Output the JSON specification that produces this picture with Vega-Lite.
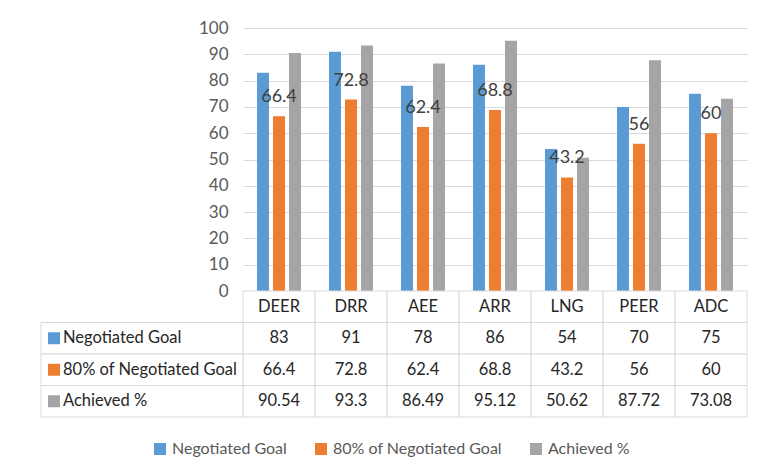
{
  "$schema": "https://vega.github.io/schema/vega-lite/v6.json",
  "background": "white",
  "padding": {"left": 40, "top": 19, "right": 10, "bottom": 10},
  "bounds": "flush",
  "spacing": 0,
  "config": {
    "font": "Lato",
    "view": {"stroke": null},
    "legend": {
      "orient": "none",
      "legendX": -91,
      "legendY": 413,
      "direction": "horizontal",
      "title": null,
      "symbolType": "square",
      "symbolSize": 144,
      "symbolStrokeWidth": 0,
      "symbolOpacity": 1,
      "labelFont": "Lato",
      "labelFontSize": 16,
      "labelColor": "#595959",
      "labelOffset": 4,
      "labelLimit": 0,
      "columnPadding": 26
    }
  },
  "datasets": {
    "d": [
      {"cat": "DEER", "series": "Negotiated Goal", "value": 83},
      {"cat": "DRR", "series": "Negotiated Goal", "value": 91},
      {"cat": "AEE", "series": "Negotiated Goal", "value": 78},
      {"cat": "ARR", "series": "Negotiated Goal", "value": 86},
      {"cat": "LNG", "series": "Negotiated Goal", "value": 54},
      {"cat": "PEER", "series": "Negotiated Goal", "value": 70},
      {"cat": "ADC", "series": "Negotiated Goal", "value": 75},
      {"cat": "DEER", "series": "80% of Negotiated Goal", "value": 66.4},
      {"cat": "DRR", "series": "80% of Negotiated Goal", "value": 72.8},
      {"cat": "AEE", "series": "80% of Negotiated Goal", "value": 62.4},
      {"cat": "ARR", "series": "80% of Negotiated Goal", "value": 68.8},
      {"cat": "LNG", "series": "80% of Negotiated Goal", "value": 43.2},
      {"cat": "PEER", "series": "80% of Negotiated Goal", "value": 56},
      {"cat": "ADC", "series": "80% of Negotiated Goal", "value": 60},
      {"cat": "DEER", "series": "Achieved %", "value": 90.54},
      {"cat": "DRR", "series": "Achieved %", "value": 93.3},
      {"cat": "AEE", "series": "Achieved %", "value": 86.49},
      {"cat": "ARR", "series": "Achieved %", "value": 95.12},
      {"cat": "LNG", "series": "Achieved %", "value": 50.62},
      {"cat": "PEER", "series": "Achieved %", "value": 87.72},
      {"cat": "ADC", "series": "Achieved %", "value": 73.08}
    ]
  },
  "vconcat": [
    {
      "width": 504,
      "height": 263,
      "data": {"name": "d"},
      "encoding": {
        "x": {"field": "cat", "type": "nominal", "sort": ["DEER", "DRR", "AEE", "ARR", "LNG", "PEER", "ADC"], "scale": {"paddingInner": 0, "paddingOuter": 0}, "axis": null},
        "y": {"field": "value", "type": "quantitative", "scale": {"domain": [0, 100]},
          "axis": {"title": null, "values": [0, 10, 20, 30, 40, 50, 60, 70, 80, 90, 100], "labelOverlap": false, "domain": false, "ticks": false, "labelPadding": 15, "labelFont": "Lato", "labelFontSize": 17, "labelColor": "#595959", "gridColor": "#d9d9d9", "gridWidth": 1}}
      },
      "layer": [
        {
          "mark": {"type": "bar"},
          "encoding": {
            "xOffset": {"field": "series", "type": "nominal", "sort": ["Negotiated Goal", "80% of Negotiated Goal", "Achieved %"], "scale": {"paddingInner": 0.25, "paddingOuter": 0.875}},
            "color": {"field": "series", "type": "nominal", "sort": ["Negotiated Goal", "80% of Negotiated Goal", "Achieved %"],
              "scale": {"domain": ["Negotiated Goal", "80% of Negotiated Goal", "Achieved %"], "range": ["#5b9bd5", "#ed7d31", "#a5a5a5"]}}
          }
        },
        {
          "transform": [{"filter": "datum.series === '80% of Negotiated Goal'"}],
          "mark": {"type": "text", "dy": -19, "fontSize": 18, "color": "#404040", "font": "Lato", "baseline": "middle"},
          "encoding": {
            "text": {"field": "value", "type": "quantitative"}
          }
        }
      ]
    },
    {
      "width": 504,
      "height": 126,
      "data": {"name": "d"},
      "layer": [
        {
          "transform": [{"filter": "datum.series === 'Negotiated Goal'"}],
          "mark": {"type": "rect", "fill": "white", "stroke": "#d9d9d9", "strokeWidth": 1},
          "encoding": {
            "x": {"field": "cat", "type": "nominal", "sort": ["DEER", "DRR", "AEE", "ARR", "LNG", "PEER", "ADC"], "scale": {"paddingInner": 0, "paddingOuter": 0}, "axis": null},
            "y": {"datum": "hdr", "type": "nominal", "scale": {"domain": ["hdr", "Negotiated Goal", "80% of Negotiated Goal", "Achieved %"], "paddingInner": 0, "paddingOuter": 0}, "axis": null}
          }
        },
        {
          "mark": {"type": "rect", "fill": "white", "stroke": "#d9d9d9", "strokeWidth": 1},
          "encoding": {
            "x": {"field": "cat", "type": "nominal", "sort": ["DEER", "DRR", "AEE", "ARR", "LNG", "PEER", "ADC"], "scale": {"paddingInner": 0, "paddingOuter": 0}, "axis": null},
            "y": {"field": "series", "type": "nominal", "axis": null}
          }
        },
        {
          "transform": [{"filter": "datum.series === 'Negotiated Goal'"}],
          "mark": {"type": "text", "fontSize": 16.5, "color": "#262626", "font": "Lato", "baseline": "middle"},
          "encoding": {
            "x": {"field": "cat", "type": "nominal", "sort": ["DEER", "DRR", "AEE", "ARR", "LNG", "PEER", "ADC"], "scale": {"paddingInner": 0, "paddingOuter": 0}, "axis": null},
            "y": {"datum": "hdr", "type": "nominal"},
            "text": {"field": "cat"}
          }
        },
        {
          "mark": {"type": "text", "fontSize": 16.5, "color": "#262626", "font": "Lato", "baseline": "middle"},
          "encoding": {
            "x": {"field": "cat", "type": "nominal", "sort": ["DEER", "DRR", "AEE", "ARR", "LNG", "PEER", "ADC"], "scale": {"paddingInner": 0, "paddingOuter": 0}, "axis": null},
            "y": {"field": "series", "type": "nominal"},
            "text": {"field": "value", "type": "quantitative"}
          }
        },
        {
          "transform": [{"filter": "datum.cat === 'DEER'"}],
          "mark": {"type": "rect", "fill": "white", "stroke": "#d9d9d9", "strokeWidth": 1},
          "encoding": {
            "x": {"field": "cat", "type": "nominal", "scale": {"range": [-202, 0], "paddingInner": 0, "paddingOuter": 0}, "axis": null},
            "y": {"field": "series", "type": "nominal"}
          }
        },
        {
          "transform": [{"filter": "datum.cat === 'DEER'"}],
          "mark": {"type": "point", "shape": "square", "size": 144, "filled": true, "opacity": 1},
          "encoding": {
            "x": {"field": "cat", "type": "nominal", "scale": {"range": [-195, -183], "paddingInner": 0, "paddingOuter": 0}, "axis": null},
            "y": {"field": "series", "type": "nominal"},
            "color": {"field": "series", "type": "nominal", "sort": ["Negotiated Goal", "80% of Negotiated Goal", "Achieved %"]}
          }
        },
        {
          "transform": [{"filter": "datum.cat === 'DEER'"}],
          "mark": {"type": "text", "fontSize": 16.5, "color": "#262626", "font": "Lato", "baseline": "middle", "align": "left", "dx": -79},
          "encoding": {
            "x": {"field": "cat", "type": "nominal", "scale": {"range": [-202, 0], "paddingInner": 0, "paddingOuter": 0}, "axis": null},
            "y": {"field": "series", "type": "nominal"},
            "text": {"field": "series"}
          }
        }
      ],
      "resolve": {"scale": {"x": "independent"}}
    }
  ]
}
